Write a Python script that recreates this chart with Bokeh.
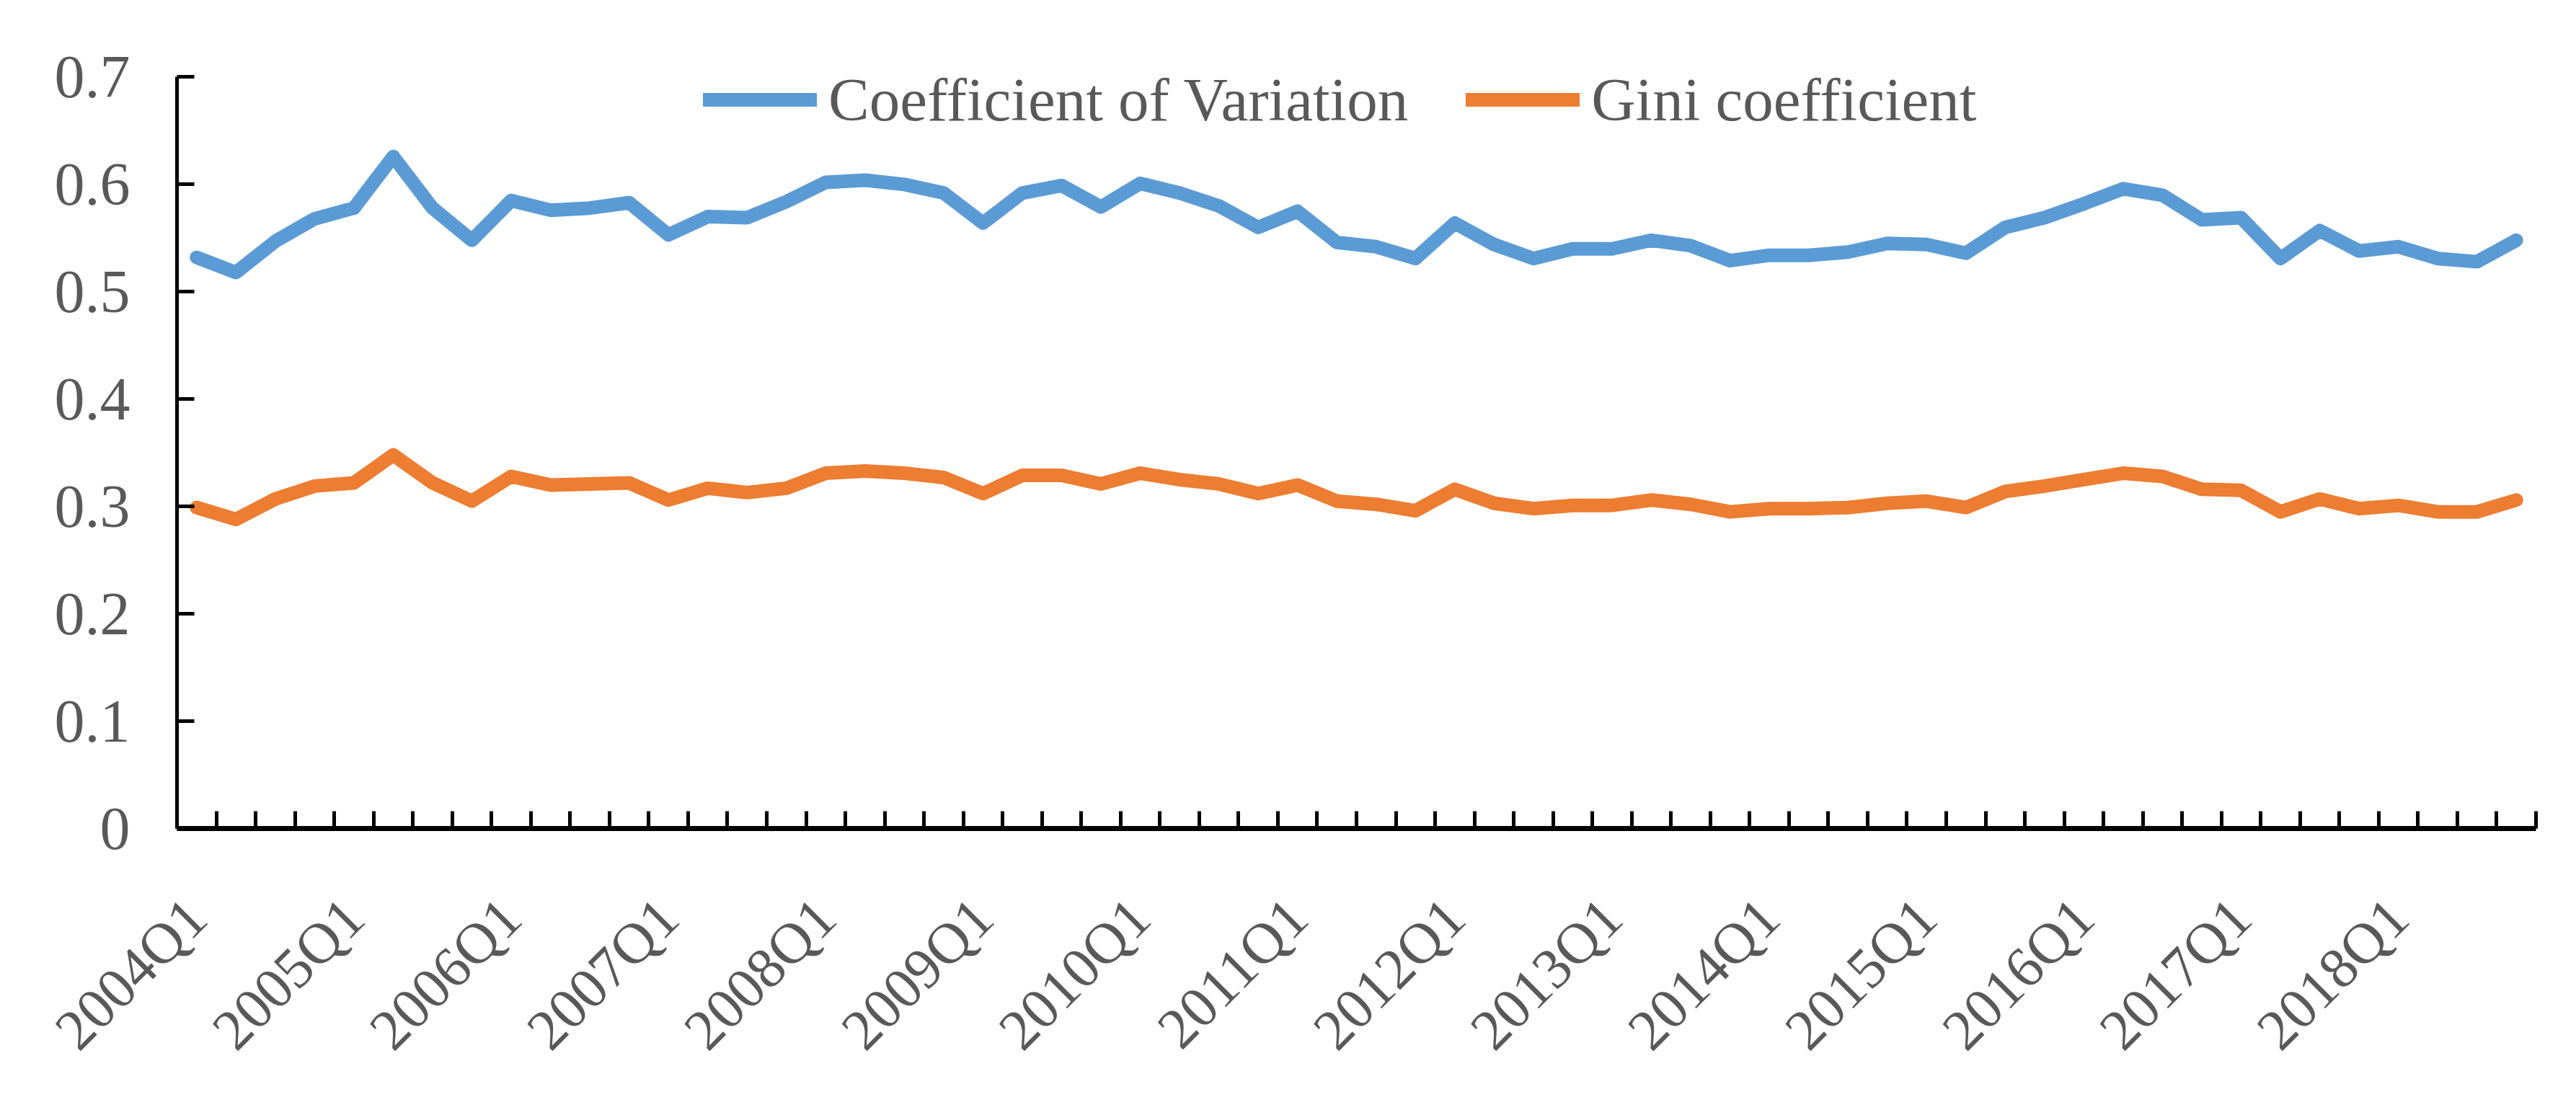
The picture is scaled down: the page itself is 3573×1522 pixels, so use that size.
from bokeh.plotting import figure
from bokeh.models import FixedTicker, Legend, LegendItem, Range1d
from bokeh.embed import file_html
from bokeh.resources import INLINE
import math

# ---- data ----
quarters = [f"{y}Q{q}" for y in range(2004, 2019) for q in (1, 2, 3, 4)]
tick_labels = ["2004Q1", "2005Q1", "2006Q1", "2007Q1", "2008Q1", "2009Q1", "2010Q1",
               "2011Q1", "2012Q1", "2013Q1", "2014Q1", "2015Q1", "2016Q1", "2017Q1", "2018Q1"]

cv = [0.532, 0.518, 0.547, 0.568, 0.578, 0.626, 0.578, 0.548, 0.585, 0.576, 0.578, 0.583,
      0.553, 0.570, 0.569, 0.584, 0.602, 0.604, 0.600, 0.592, 0.564, 0.592, 0.599, 0.579, 0.601,
      0.592, 0.580, 0.560, 0.575, 0.546, 0.542, 0.531, 0.564, 0.544, 0.531, 0.540, 0.540,
      0.548, 0.543, 0.529, 0.534, 0.534, 0.537, 0.545, 0.544, 0.536, 0.560, 0.569, 0.582,
      0.596, 0.590, 0.567, 0.569, 0.531, 0.557, 0.538, 0.542, 0.531, 0.528, 0.548]

gini = [0.299, 0.288, 0.307, 0.319, 0.322, 0.348, 0.322, 0.305, 0.328, 0.320, 0.321, 0.322,
        0.306, 0.317, 0.313, 0.317, 0.331, 0.333, 0.331, 0.327, 0.312, 0.329, 0.329, 0.321, 0.331,
        0.325, 0.321, 0.312, 0.320, 0.305, 0.302, 0.296, 0.316, 0.303, 0.298, 0.301, 0.301,
        0.306, 0.302, 0.295, 0.298, 0.298, 0.299, 0.303, 0.305, 0.299, 0.314, 0.319, 0.325,
        0.331, 0.328, 0.316, 0.315, 0.295, 0.307, 0.298, 0.301, 0.295, 0.295, 0.306]

y_ticks = [0, 0.1, 0.2, 0.3, 0.4, 0.5, 0.6, 0.7]
y_tick_labels = ["0", "0.1", "0.2", "0.3", "0.4", "0.5", "0.6", "0.7"]

# ---- styling ----
FONT = "Liberation Serif"
TEXT = "#595959"
BLUE = "#5B9BD5"
ORANGE = "#ED7D31"

x = list(range(len(quarters)))

p = figure(width=3557, height=1506, output_backend="svg", toolbar_location=None,
           x_range=Range1d(-0.5, len(quarters) - 0.5), y_range=Range1d(0, 0.75),
           min_border_left=245, min_border_right=40, min_border_top=32, min_border_bottom=354)
p.outline_line_color = None
p.xgrid.visible = False
p.ygrid.visible = False
p.background_fill_color = "white"
p.border_fill_color = "white"

r1 = p.line(x, cv, line_color=BLUE, line_width=19, line_cap="round", line_join="round")
r2 = p.line(x, gini, line_color=ORANGE, line_width=19, line_cap="round", line_join="round")

# x axis
major_x = [quarters.index(t) for t in tick_labels]
p.xaxis.ticker = FixedTicker(ticks=major_x, minor_ticks=[i - 0.5 for i in range(len(quarters) + 1)])
p.xaxis.major_label_overrides = {quarters.index(t): t for t in tick_labels}
p.xaxis.major_tick_in = 0
p.xaxis.major_tick_out = 0
p.xaxis.minor_tick_in = 24
p.xaxis.minor_tick_out = 0
p.xaxis.minor_tick_line_width = 5
p.xaxis.minor_tick_line_color = "black"
p.xaxis.axis_line_width = 7
p.xaxis.axis_line_color = "black"
p.xaxis.major_label_orientation = math.pi / 4
p.xaxis.major_label_standoff = 110
p.xaxis.major_label_text_font = FONT
p.xaxis.major_label_text_font_size = "80px"
p.xaxis.major_label_text_color = TEXT

# y axis
p.yaxis.ticker = FixedTicker(ticks=y_ticks)
p.yaxis.bounds = (0, 0.7)
p.yaxis.major_label_overrides = {v: s for v, s in zip(y_ticks, y_tick_labels)}
p.yaxis.major_tick_in = 24
p.yaxis.major_tick_out = 0
p.yaxis.major_tick_line_width = 5
p.yaxis.minor_tick_line_color = None
p.yaxis.axis_line_width = 5
p.yaxis.major_label_standoff = 65
p.yaxis.major_label_text_font = FONT
p.yaxis.major_label_text_font_size = "84px"
p.yaxis.major_label_text_color = TEXT

legend = Legend(items=[LegendItem(label="Coefficient of Variation", renderers=[r1]),
                       LegendItem(label="Gini coefficient", renderers=[r2])],
                orientation="horizontal", location=(730, 962),
                glyph_width=158, glyph_height=40, label_standoff=16, spacing=80,
                padding=0, margin=0, border_line_color=None, background_fill_alpha=0,
                label_text_font=FONT, label_text_font_size="85px", label_text_color=TEXT)
p.add_layout(legend, "center")

open("out.html", "w").write(file_html(p, INLINE))
